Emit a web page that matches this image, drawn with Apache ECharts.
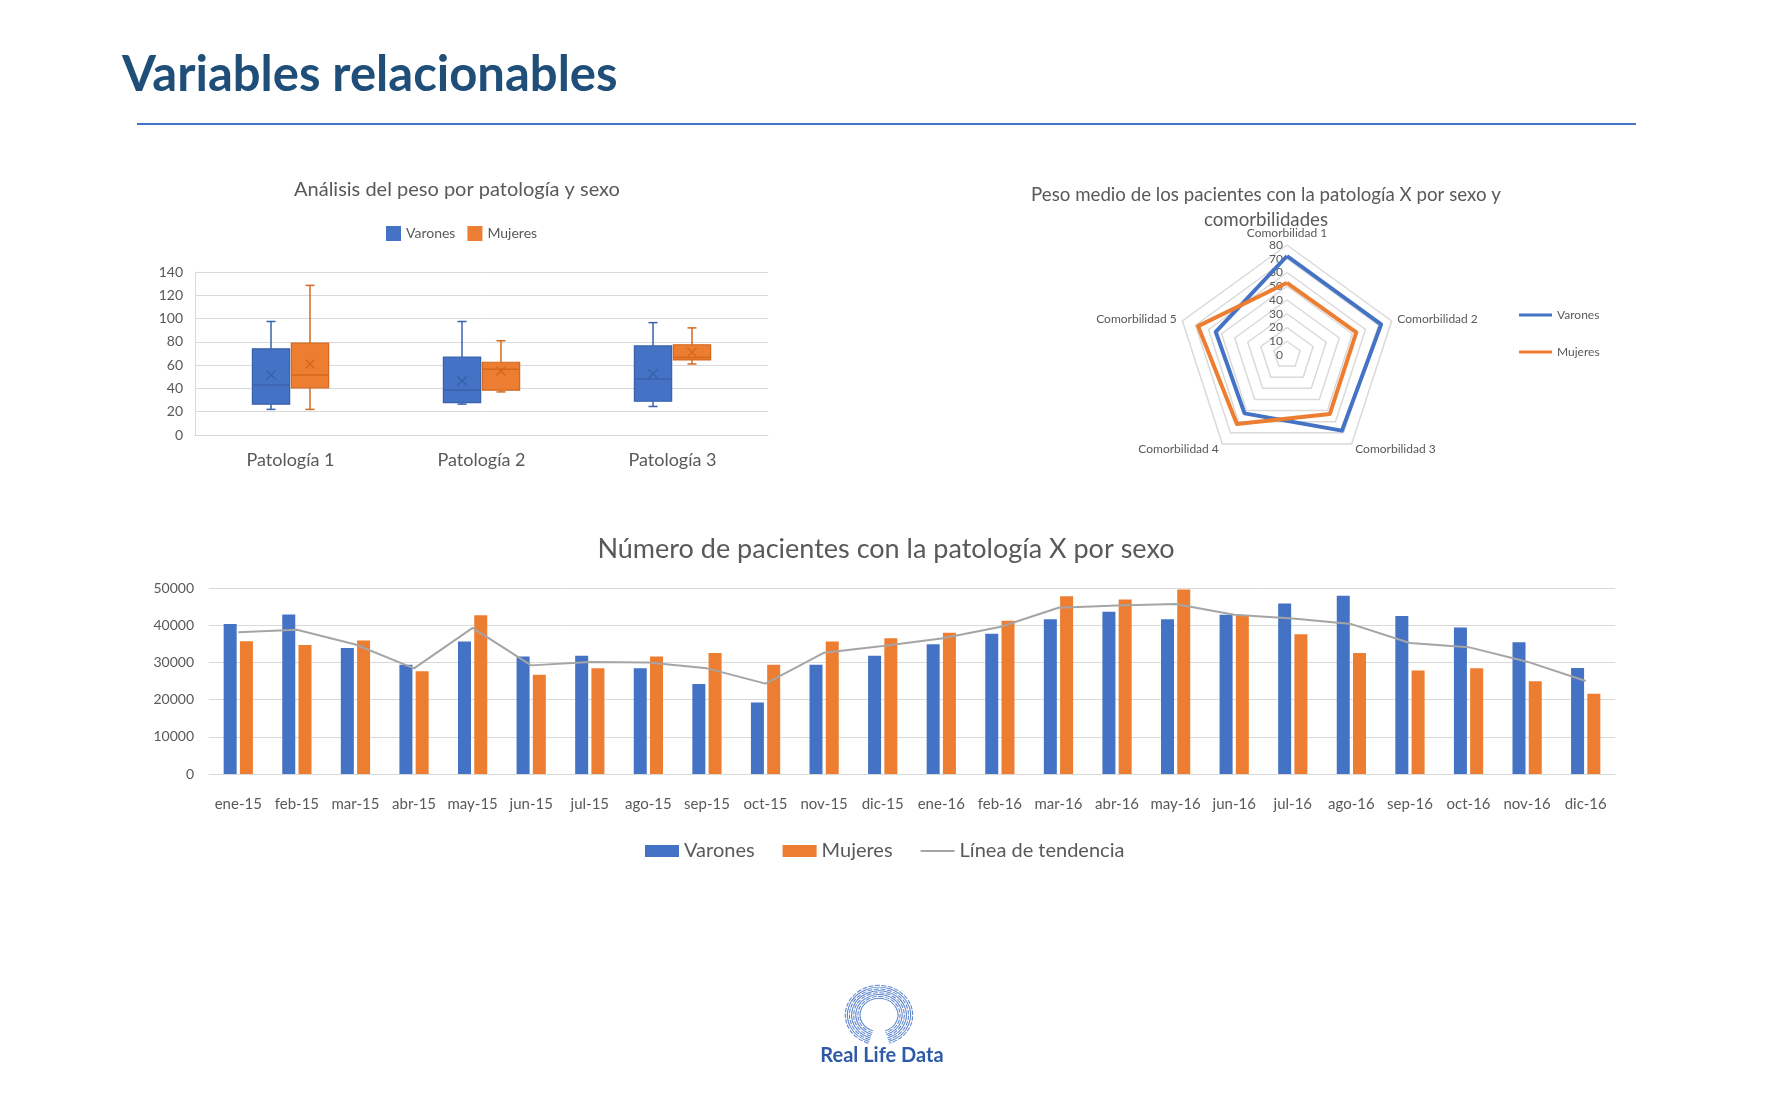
<!DOCTYPE html>
<html>
<head>
<meta charset="utf-8">
<title>Variables relacionables</title>
<script src="https://cdn.jsdelivr.net/npm/echarts@6.0.0/dist/echarts.min.js"></script>
<style>
  html, body { margin: 0; padding: 0; background: #fff; }
  #main { width: 1770px; height: 1100px; }
</style>
</head>
<body>
<div id="main"></div>
<script>
// ---- datos ----
const boxCategories = ['Patología 1', 'Patología 2', 'Patología 3'];
// [min, Q1, mediana, Q3, max]
const varonesBox = [[22, 26.5, 43, 74, 97.5], [26.5, 27.8, 38.5, 67, 97.5], [24.5, 29, 48, 76.5, 96.5]];
const mujeresBox = [[22, 40.5, 51.5, 79, 128.5], [37, 38.5, 56.5, 62.5, 81], [61, 64.5, 66.5, 77.5, 92]];
const varonesMean = [51.5, 46.5, 52.5];
const mujeresMean = [61, 55, 71];
const boxTicks = [0, 140, 20]; // min, max, intervalo

const comorbilidades = ['Comorbilidad 1', 'Comorbilidad 2', 'Comorbilidad 3', 'Comorbilidad 4', 'Comorbilidad 5'];
const radarVarones = [72, 72, 68, 52.5, 54.5];
const radarMujeres = [52.5, 53, 53, 62, 68];
const radarMax = 80;

const months = ['ene-15', 'feb-15', 'mar-15', 'abr-15', 'may-15', 'jun-15', 'jul-15', 'ago-15', 'sep-15', 'oct-15', 'nov-15', 'dic-15',
  'ene-16', 'feb-16', 'mar-16', 'abr-16', 'may-16', 'jun-16', 'jul-16', 'ago-16', 'sep-16', 'oct-16', 'nov-16', 'dic-16'];
const pacientesVarones = [40300, 42900, 33900, 29400, 35600, 31600, 31800, 28400, 24200, 19200, 29400, 31800,
  34900, 37700, 41600, 43600, 41600, 42800, 45800, 47900, 42500, 39400, 35400, 28500];
const pacientesMujeres = [35700, 34700, 35900, 27600, 42700, 26700, 28400, 31600, 32500, 29400, 35600, 36500,
  38000, 41200, 47800, 46900, 49600, 42600, 37600, 32500, 27800, 28400, 24900, 21600];
const tendencia = [38100, 38800, 34800, 28400, 39300, 29200, 30100, 30000, 28400, 24300, 32600, 34400,
  36400, 39500, 44700, 45300, 45700, 42800, 41800, 40300, 35200, 34100, 30200, 25000];

const BLUE = '#4472C4';
const ORANGE = '#ED7D31';
const GRAY = '#A5A5A5';
const TEXT = '#595959';
const FONT = 'Lato, "Noto Sans", sans-serif';

const myChart = echarts.init(document.getElementById('main'));

// caja + bigotes + media (X) dibujados con las escalas del eje
function boxRenderer(offset, fill, stroke) {
  return function (params, api) {
    const cat = api.value(0);
    const band = api.size([1, 0])[0];
    const cx = api.coord([cat, 0])[0] + band * offset;
    const w = band * 0.195;
    const yy = (i) => api.coord([cat, api.value(i)])[1];
    const pMin = yy(1), pQ1 = yy(2), pMed = yy(3), pQ3 = yy(4), pMax = yy(5), pMean = yy(6);
    const cap = 4.5;
    const m = 4.5;
    const ls = { stroke: stroke, lineWidth: 1.5 };
    return {
      type: 'group',
      children: [
        { type: 'line', shape: { x1: cx, y1: pMax, x2: cx, y2: pQ3 }, style: ls },
        { type: 'line', shape: { x1: cx, y1: pQ1, x2: cx, y2: pMin }, style: ls },
        { type: 'line', shape: { x1: cx - cap, y1: pMax, x2: cx + cap, y2: pMax }, style: ls },
        { type: 'line', shape: { x1: cx - cap, y1: pMin, x2: cx + cap, y2: pMin }, style: ls },
        { type: 'rect', shape: { x: cx - w / 2, y: pQ3, width: w, height: pQ1 - pQ3 }, style: { fill: fill, stroke: stroke, lineWidth: 1.2 } },
        { type: 'line', shape: { x1: cx - w / 2, y1: pMed, x2: cx + w / 2, y2: pMed }, style: ls },
        { type: 'line', shape: { x1: cx - m, y1: pMean - m, x2: cx + m, y2: pMean + m }, style: ls },
        { type: 'line', shape: { x1: cx - m, y1: pMean + m, x2: cx + m, y2: pMean - m }, style: ls }
      ]
    };
  };
}

const varonesBoxData = varonesBox.map((b, i) => [i].concat(b, [varonesMean[i]]));
const mujeresBoxData = mujeresBox.map((b, i) => [i].concat(b, [mujeresMean[i]]));

// radar de echarts gira en sentido antihorario -> reordenar para que vaya en sentido horario
const radarOrder = [0, 4, 3, 2, 1];

// logo: copa del arbol con arcos
const logoArcs = [];
for (let k = 0; k < 8; k++) {
  logoArcs.push({
    type: 'arc',
    shape: { cx: 0, cy: 0, r: 19 + k * 2.1, startAngle: Math.PI * 0.6, endAngle: Math.PI * 2.4 },
    style: { stroke: BLUE, lineWidth: 1.1, fill: null, opacity: 0.85, lineDash: k % 2 ? [5, 1.5] : null }
  });
}

// icono de linea fina para la leyenda (caja 34x12, trazo de 2px)
const lineIcon = 'path://M0,0 L0.01,0 M0,5 L34,5 L34,7 L0,7 Z M34,12 L33.99,12';

let option;
option = {
  animation: false,
  textStyle: { fontFamily: FONT },
  graphic: [
    {
      type: 'text', x: 122, y: 75,
      style: { text: 'Variables relacionables', fill: '#1F4E79', fontFamily: FONT, fontSize: 49, fontWeight: 'bold', textVerticalAlign: 'middle' }
    },
    { type: 'line', shape: { x1: 137, y1: 124, x2: 1636, y2: 124 }, style: { stroke: BLUE, lineWidth: 2 } },
    {
      type: 'text', x: 457, y: 190,
      style: { text: 'Análisis del peso por patología y sexo', fill: TEXT, fontFamily: FONT, fontSize: 20, textAlign: 'center', textVerticalAlign: 'middle' }
    },
    {
      type: 'text', x: 1266, y: 207,
      style: { text: 'Peso medio de los pacientes con la patología X por sexo y\ncomorbilidades', fill: TEXT, fontFamily: FONT, fontSize: 18.7, lineHeight: 25, textAlign: 'center', textVerticalAlign: 'middle' }
    },
    {
      type: 'text', x: 886, y: 549,
      style: { text: 'Número de pacientes con la patología X por sexo', fill: TEXT, fontFamily: FONT, fontSize: 27, textAlign: 'center', textVerticalAlign: 'middle' }
    },
    { type: 'group', x: 879, y: 1015, scaleY: 0.88, children: logoArcs },
    {
      type: 'text', x: 882, y: 1056,
      style: { text: 'Real Life Data', fill: '#2E5AA8', fontFamily: FONT, fontSize: 20, fontWeight: 'bold', textAlign: 'center', textVerticalAlign: 'middle' }
    }
  ],
  legend: [
    {
      left: 381, top: 221, itemWidth: 15, itemHeight: 15, itemGap: 12,
      textStyle: { color: TEXT, fontSize: 14, fontFamily: FONT },
      data: [
        { name: 'Varones', icon: 'rect', itemStyle: { color: BLUE } },
        { name: 'Mujeres', icon: 'rect', itemStyle: { color: ORANGE } }
      ]
    },
    {
      left: 1514, top: 304, orient: 'vertical', itemWidth: 33, itemHeight: 3, itemGap: 25,
      textStyle: { color: TEXT, fontSize: 12, fontFamily: FONT },
      data: [
        { name: 'Varones', icon: 'rect', itemStyle: { color: BLUE } },
        { name: 'Mujeres', icon: 'rect', itemStyle: { color: ORANGE } }
      ]
    },
    {
      left: 640, top: 836, itemWidth: 34, itemHeight: 12, itemGap: 28,
      textStyle: { color: TEXT, fontSize: 20, fontFamily: FONT },
      data: [
        { name: 'Varones', icon: 'rect', itemStyle: { color: BLUE } },
        { name: 'Mujeres', icon: 'rect', itemStyle: { color: ORANGE } },
        { name: 'Línea de tendencia', icon: lineIcon, itemStyle: { color: GRAY } }
      ]
    }
  ],
  grid: [
    { left: 195, right: 1002, top: 272, bottom: 665, outerBoundsMode: 'none' },
    { left: 209, right: 155, top: 588, bottom: 326, outerBoundsMode: 'none' }
  ],
  xAxis: [
    {
      type: 'category', gridIndex: 0, data: boxCategories,
      axisLine: { lineStyle: { color: '#D9D9D9' } },
      axisTick: { show: false },
      axisLabel: { color: TEXT, fontSize: 18, margin: 16, fontFamily: FONT }
    },
    {
      type: 'category', gridIndex: 1, data: months,
      axisLine: { lineStyle: { color: '#D9D9D9' } },
      axisTick: { show: false },
      axisLabel: { color: TEXT, fontSize: 15, margin: 23, interval: 0, fontFamily: FONT }
    }
  ],
  yAxis: [
    {
      type: 'value', gridIndex: 0, min: boxTicks[0], max: boxTicks[1], interval: boxTicks[2],
      axisLine: { show: true, lineStyle: { color: '#D9D9D9' } },
      axisTick: { show: false },
      splitLine: { lineStyle: { color: '#D9D9D9' } },
      axisLabel: { color: TEXT, fontSize: 14, margin: 12, fontFamily: FONT }
    },
    {
      type: 'value', gridIndex: 1, min: 0, max: 50000, interval: 10000,
      axisLine: { show: false },
      axisTick: { show: false },
      splitLine: { lineStyle: { color: '#D9D9D9' } },
      axisLabel: { color: TEXT, fontSize: 14, margin: 15, fontFamily: FONT, formatter: (v) => String(v) }
    }
  ],
  radar: {
    center: [1287, 355],
    radius: 110,
    startAngle: 90,
    splitNumber: 8,
    shape: 'polygon',
    nameGap: 6,
    axisName: { color: TEXT, fontSize: 12, fontFamily: FONT },
    axisLine: { show: false },
    axisTick: { show: false },
    splitArea: { show: false },
    splitLine: { lineStyle: { color: '#D9D9D9', width: 1.5 } },
    axisLabel: { show: false, color: TEXT, fontSize: 12, fontFamily: FONT, margin: 4 },
    indicator: radarOrder.map((i) => ({
      name: comorbilidades[i], min: 0, max: radarMax, axisLabel: { show: i === 0 }
    }))
  },
  series: [
    {
      name: 'Varones', type: 'custom', xAxisIndex: 0, yAxisIndex: 0,
      itemStyle: { color: BLUE },
      renderItem: boxRenderer(-0.102, BLUE, '#3A62AC'),
      encode: { x: 0, y: [1, 2, 3, 4, 5, 6] },
      data: varonesBoxData
    },
    {
      name: 'Mujeres', type: 'custom', xAxisIndex: 0, yAxisIndex: 0,
      itemStyle: { color: ORANGE },
      renderItem: boxRenderer(0.102, ORANGE, '#D3691F'),
      encode: { x: 0, y: [1, 2, 3, 4, 5, 6] },
      data: mujeresBoxData
    },
    {
      type: 'radar',
      symbol: 'none',
      data: [
        { name: 'Varones', value: radarOrder.map((i) => radarVarones[i]), lineStyle: { color: BLUE, width: 4 }, itemStyle: { color: BLUE } },
        { name: 'Mujeres', value: radarOrder.map((i) => radarMujeres[i]), lineStyle: { color: ORANGE, width: 4 }, itemStyle: { color: ORANGE } }
      ]
    },
    {
      name: 'Varones', type: 'bar', xAxisIndex: 1, yAxisIndex: 1,
      barWidth: 13, barGap: '25%',
      itemStyle: { color: BLUE },
      data: pacientesVarones
    },
    {
      name: 'Mujeres', type: 'bar', xAxisIndex: 1, yAxisIndex: 1,
      barWidth: 13, barGap: '25%',
      itemStyle: { color: ORANGE },
      data: pacientesMujeres
    },
    {
      name: 'Línea de tendencia', type: 'line', xAxisIndex: 1, yAxisIndex: 1,
      symbol: 'none',
      lineStyle: { color: GRAY, width: 2 },
      itemStyle: { color: GRAY },
      data: tendencia
    }
  ]
};
option && myChart.setOption(option);
</script>
</body>
</html>
